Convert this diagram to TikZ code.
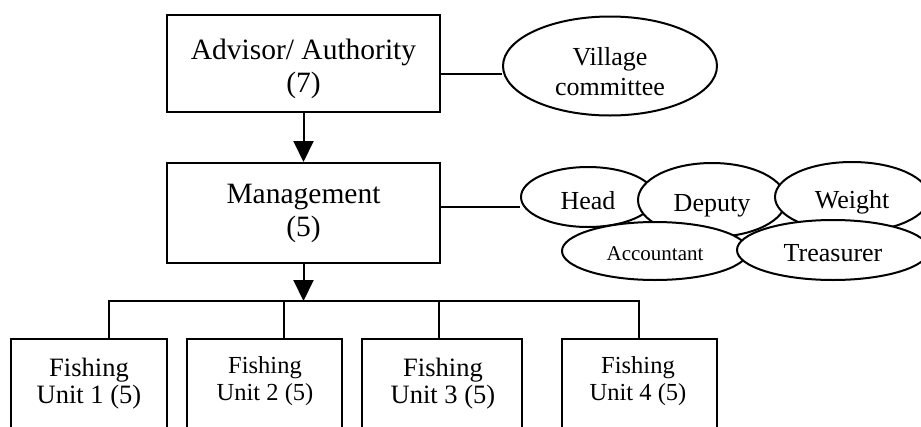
\documentclass[tikz,border=0pt]{standalone}
\usepackage{fontspec}
\setmainfont{Liberation Serif}
\usetikzlibrary{arrows.meta,shapes.geometric,backgrounds}
\newcommand{\firstlinestrut}[1]{\rule{0pt}{#1}}
\begin{document}
\begin{tikzpicture}[x=1pt,y=-1pt,line width=2pt,
  tdown/.style={execute at begin node={\rule{0pt}{\dimexpr0.69em+#1\relax}}},
  bigbox/.style={draw,fill=white,rectangle,inner sep=0pt,align=center,
    minimum width=273pt,font=\fontsize{29.5}{33}\selectfont},
  unitbox/.style={draw,fill=white,rectangle,inner sep=0pt,anchor=north,minimum height=150pt},
  unittextA/.style={inner sep=0pt,align=center,font=\fontsize{26.5}{27}\selectfont},
  unittextB/.style={inner sep=0pt,align=center,font=\fontsize{24.5}{27}\selectfont},
  oval/.style={draw,fill=white,ellipse,inner sep=0pt,align=center,
    font=\fontsize{26}{30}\selectfont},
  conn/.style={line width=2pt},
  arr/.style={line width=2pt,-{Triangle[width=20pt,length=21pt]}}]
\useasboundingbox (0,0) rectangle (921,426);
\begin{scope}
\clip (0,0) rectangle (921,426);
% main boxes
\node[bigbox,minimum height=97pt] (adv) at (303.5,63.5) {\firstlinestrut{30.5pt}Advisor/ Authority\\(7)};
\node[bigbox,minimum height=100pt] (mg) at (303.5,213) {Management\\(5)};
% village committee
\node[oval,minimum width=214pt,minimum height=99pt] (vc) at (610,66) {\firstlinestrut{28.5pt}Village\\committee};
% management roles
\node[oval,minimum width=134pt,minimum height=60pt,tdown=8pt] (hd) at (588,197) {Head};
\node[oval,minimum width=148pt,minimum height=74pt,tdown=10pt] (dp) at (712,200) {Deputy};
\node[oval,minimum width=154pt,minimum height=70pt,tdown=10pt] (wt) at (852,197) {Weight};
\node[oval,minimum width=186pt,minimum height=58pt,font=\fontsize{21}{24}\selectfont,tdown=4pt] (ac) at (655,251) {Accountant};
\node[oval,minimum width=192pt,minimum height=60pt,tdown=6pt] (tr) at (833,250) {Treasurer};
% fishing units
\node[unitbox,minimum width=156pt] (f1) at (89,338) {};
\node[unitbox,minimum width=155pt] (f2) at (264.5,338) {};
\node[unitbox,minimum width=160pt] (f3) at (442,338) {};
\node[unitbox,minimum width=155pt] (f4) at (639.5,338) {};
\node[unittextA] (t1) at (89,384) {Fishing\\Unit 1 (5)};
\node[unittextB] (t2) at (265,381) {Fishing\\Unit 2 (5)};
\node[unittextA] (t3) at (443,384) {Fishing\\Unit 3 (5)};
\node[unittextB] (t4) at (638,381) {Fishing\\Unit 4 (5)};
% coordinates
\coordinate (y1) at (0,74);
\coordinate (y2) at (0,207);
\coordinate (b0) at (303.5,301);
\coordinate (b1) at (109,301);
\coordinate (b2) at (284,301);
\coordinate (b3) at (439,301);
\coordinate (b4) at (639,301);
\end{scope}
\begin{pgfonlayer}{background}
\fill[white] (0,0) rectangle (921,426);
\draw[conn] (adv.east |- y1) -- (vc.west |- y1);
\draw[conn] (mg.east |- y2) -- (hd.west |- y2);
\end{pgfonlayer}
\draw[arr] (adv.south) -- (mg.north);
\draw[arr] (mg.south) -- (b0);
\draw[conn] (b1 |- f1.north) -- (b1) -- (b4) -- (b4 |- f4.north);
\draw[conn] (b2) -- (b2 |- f2.north);
\draw[conn] (b3) -- (b3 |- f3.north);
\end{tikzpicture}
\end{document}
